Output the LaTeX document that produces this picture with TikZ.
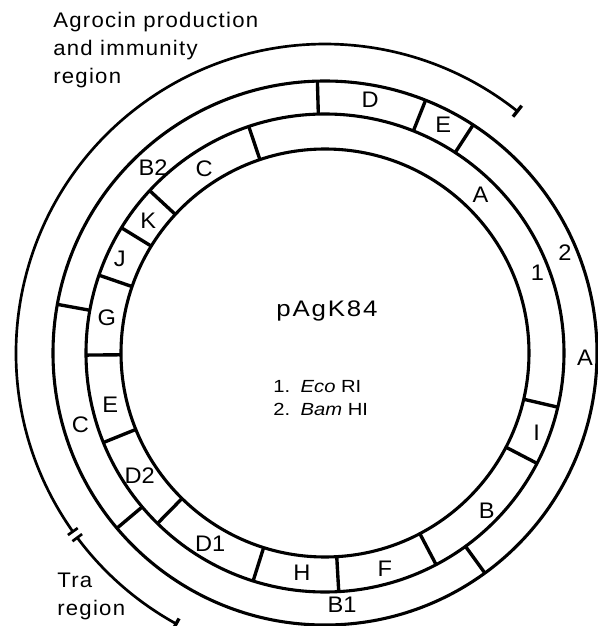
\documentclass[tikz,border=0pt]{standalone}
\usepackage{fontspec}
\setmainfont{Liberation Sans}
\usepackage{tikz}

\begin{document}
\begin{tikzpicture}[x=0.025cm, y=0.025cm,
    ring/.style={line width=2.2pt},
    cut/.style={line width=2.4pt},
    region/.style={line width=1.9pt},
    frag/.style={font=\fontsize{16}{18}\selectfont\addfontfeature{FakeStretch=1.05}, inner sep=0pt},
    note/.style={font=\fontsize{15}{19.8}\selectfont\addfontfeature{FakeStretch=1.05,LetterSpace=6}, align=left, inner sep=0pt},
    key/.style={font=\fontsize{12.5}{14}\selectfont\addfontfeature{FakeStretch=1.15}, inner sep=0pt},
]
    \useasboundingbox (-325,-273) rectangle (273,353);
    \coordinate (o) at (0,0);
    % the two fragment rings: 1 = Eco RI (inner), 2 = Bam HI (outer)
    \draw[ring] (o) circle[radius=204] (o) circle[radius=239] (o) circle[radius=272];
    \foreach \a in {108.6, -13.1, -27.5, -62.3, -86.7, -107.5, -134.5, -158, 180.5, 161, 148.4, 137.2} {
        \draw[cut] (\a:204) -- (\a:239);
    }
    \foreach \a in {91.6, 68.3, 57, -54, 220.1, 169.7} {
        \draw[cut] (\a:239) -- (\a:272);
    }
    % fragment names
    \foreach \a/\r/\t [count=\i] in {45.5/222/A, -20.6/226/I, -44.3/226/B, -74.5/224/F, -96/221/H,
            -121/223/D1, -146.6/222/D2, -166.4/221/E, 170.9/221/G, 155.3/226/J, 143.1/221/K,
            123.3/220/C, 20.6/227/1} {
        \node[frag] (eco\i) at (\a:\r) {\t};
    }
    \foreach \a/\r/\t [count=\i] in {79.9/257/D, 62.6/257/E, -1.1/260/A, 22.6/260/2,
            -86.1/252/B1, -163.6/255/C, 132.8/253/B2} {
        \node[frag] (bam\i) at (\a:\r) {\t};
    }
    % region arcs
    \draw[region] (215.3:309) arc[start angle=215.3, end angle=51.5, radius=309];
    \draw[region] (216.7:309) arc[start angle=216.7, end angle=241.2, radius=309];
    \draw[cut] (51.5:302) -- (51.5:316);
    \draw[region] (215.3:303) -- (215.3:315);
    \draw[region] (216.7:303) -- (216.7:315);
    \draw[cut] (241.2:303) -- (241.2:315);
    % texts
    \node[note, anchor=north west] (agro) at (-272,341) {Agrocin production\\and immunity\\region};
    \node[note, anchor=north west] (tra) at (-268,-220) {Tra\\region};
    \node[inner sep=0pt, anchor=base, font={\fontsize{16}{18}\selectfont\addfontfeature{FakeStretch=1.15,LetterSpace=8}}] (plasmid) at (2,37) {pAgK84};
    \node[key, anchor=base west] (eco) at (-52,-39) {1.\hspace{0.6em}\textit{Eco} RI};
    \node[key, anchor=base west] (bam) at (-52,-62) {2.\hspace{0.6em}\textit{Bam} HI};
\end{tikzpicture}
\end{document}
